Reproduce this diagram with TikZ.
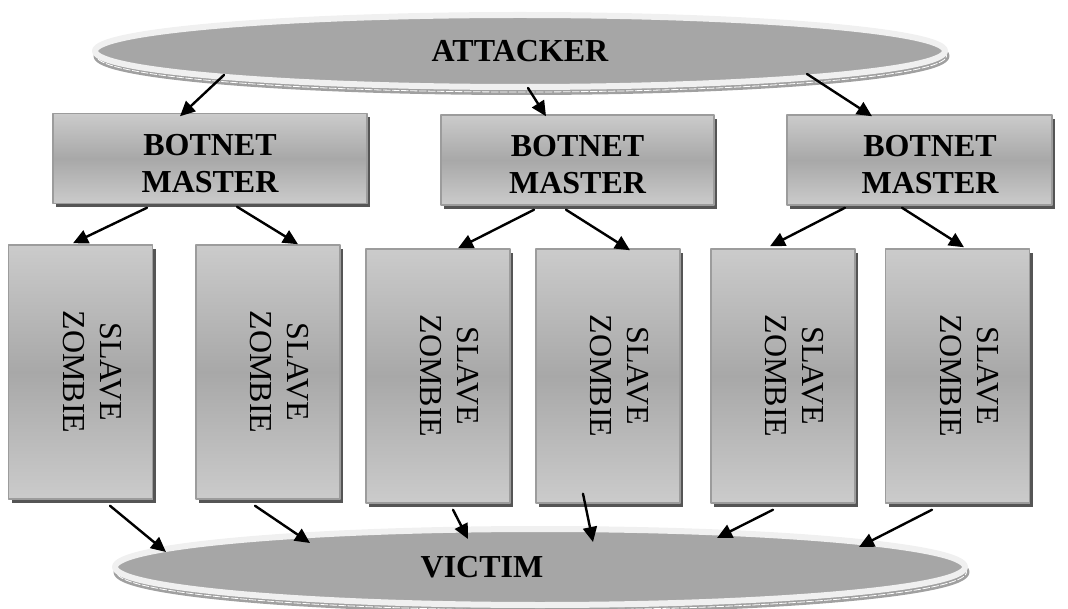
\documentclass[tikz,border=0pt]{standalone}
\usepackage{fontspec}
\setmainfont{Liberation Serif}
\usetikzlibrary{shapes.geometric,arrows.meta}
\definecolor{ovalgray}{HTML}{A6A6A6}
\definecolor{rimgray}{HTML}{F0F0F0}
\definecolor{shadegray}{HTML}{A0A0A0}
\definecolor{boxlight}{HTML}{CBCBCB}
\definecolor{boxdark}{HTML}{A8A8A8}
\definecolor{boxedge}{HTML}{9C9C9C}
\definecolor{boxshadow}{HTML}{555555}
% rotated two line text for the zombie boxes
\newcommand{\vtext}[1]{\hspace*{17pt}\rotatebox{-90}{\begin{tabular}{@{}c@{}}#1\end{tabular}}}

\begin{document}
\begin{tikzpicture}[x=1pt,y=-1pt, line cap=round,line join=round,
  font=\fontsize{32}{37}\selectfont,
  oval/.style={ellipse, minimum width=850pt, inner sep=0pt, fill=ovalgray, draw=rimgray, line width=6pt, font=\fontsize{32}{37}\selectfont\bfseries,
    preaction={draw=shadegray, fill=shadegray, line width=6pt, transform canvas={xshift=1.5pt,yshift=-5pt}},
    preaction={draw=white, line width=0.8pt, dash pattern=on 7pt off 2pt, transform canvas={xshift=1.5pt,yshift=-5pt}}},
  box/.style={rectangle, inner sep=0pt, draw=boxedge, line width=1.5pt, top color=boxlight, bottom color=boxlight, middle color=boxdark,
    preaction={fill=boxshadow, draw=none, transform canvas={xshift=3pt,yshift=-4pt}}},
  master/.style={box, minimum height=90pt, align=center, font=\fontsize{32}{37}\selectfont\bfseries},
  slave/.style={box, minimum width=144pt, minimum height=254pt},
  arr/.style={-{Triangle[length=15pt,width=14pt]}, line width=2.4pt}]
\useasboundingbox (0,0) rectangle (1068,609);

% top and bottom
\node[oval, minimum height=72pt] (att) at (520,51) {ATTACKER};
\node[oval, minimum height=76pt] (vic) at (540,567) {VICTIM\hspace*{116pt}};

% botnet masters
\node[master, minimum width=314pt] (m1) at (210,158.5) {\rule{0pt}{31pt}BOTNET\\MASTER};
\node[master, minimum width=273pt] (m2) at (577.5,160) {\rule{0pt}{31pt}BOTNET\\MASTER};
\node[master, minimum width=265pt] (m3) at (919.5,160) {\rule{0pt}{31pt}\hspace*{21pt}BOTNET\\\hspace*{21pt}MASTER};

% slave zombies
\node[slave] (s1) at (80.5,372) {\vtext{SLAVE\\ZOMBIE}};
\node[slave] (s2) at (268,372) {\vtext{SLAVE\\ZOMBIE}};
\node[slave] (s3) at (438,376) {\vtext{SLAVE\\ZOMBIE}};
\node[slave] (s4) at (608,376) {\vtext{SLAVE\\ZOMBIE}};
\node[slave] (s5) at (783,376) {\vtext{SLAVE\\ZOMBIE}};
\node[slave] (s6) at (957.5,376) {\vtext{SLAVE\\ZOMBIE}};

% attacker to masters
\draw[arr] ([shift={(-296,24)}]att.center) -- ([shift={(-30,3.5)}]m1.north);
\draw[arr] ([shift={(8,37)}]att.center) -- ([shift={(-31.5,2)}]m2.north);
\draw[arr] ([shift={(287,23)}]att.center) -- ([shift={(-47.5,2)}]m3.north);

% masters to zombies
\draw[arr] ([shift={(-63,3.5)}]m1.south) -- ([shift={(-7.5,-1)}]s1.north);
\draw[arr] ([shift={(27,2.5)}]m1.south) -- ([shift={(30,0)}]s2.north);
\draw[arr] ([shift={(-43.5,4)}]m2.south) -- ([shift={(20,0)}]s3.north);
\draw[arr] ([shift={(-11.5,4)}]m2.south) -- ([shift={(22,2)}]s4.north);
\draw[arr] ([shift={(-74.5,2)}]m3.south) -- ([shift={(-13,-2)}]s5.north);
\draw[arr] ([shift={(-17.5,2)}]m3.south) -- ([shift={(6.5,-1)}]s6.north);

% zombies to victim
\draw[arr] ([shift={(29.5,6)}]s1.south) -- ([shift={(-374,-15)}]vic.center);
\draw[arr] ([shift={(-13,6)}]s2.south) -- ([shift={(-230,-24)}]vic.center);
\draw[arr] ([shift={(15,6)}]s3.south) -- ([shift={(-72,-28)}]vic.center);
\draw[arr] ([shift={(-25,-10)}]s4.south) -- ([shift={(53,-25)}]vic.center);
\draw[arr] ([shift={(-10,6)}]s5.south) -- ([shift={(177,-29)}]vic.center);
\draw[arr] ([shift={(-25.5,6)}]s6.south) -- ([shift={(319,-20)}]vic.center);
\end{tikzpicture}
\end{document}
